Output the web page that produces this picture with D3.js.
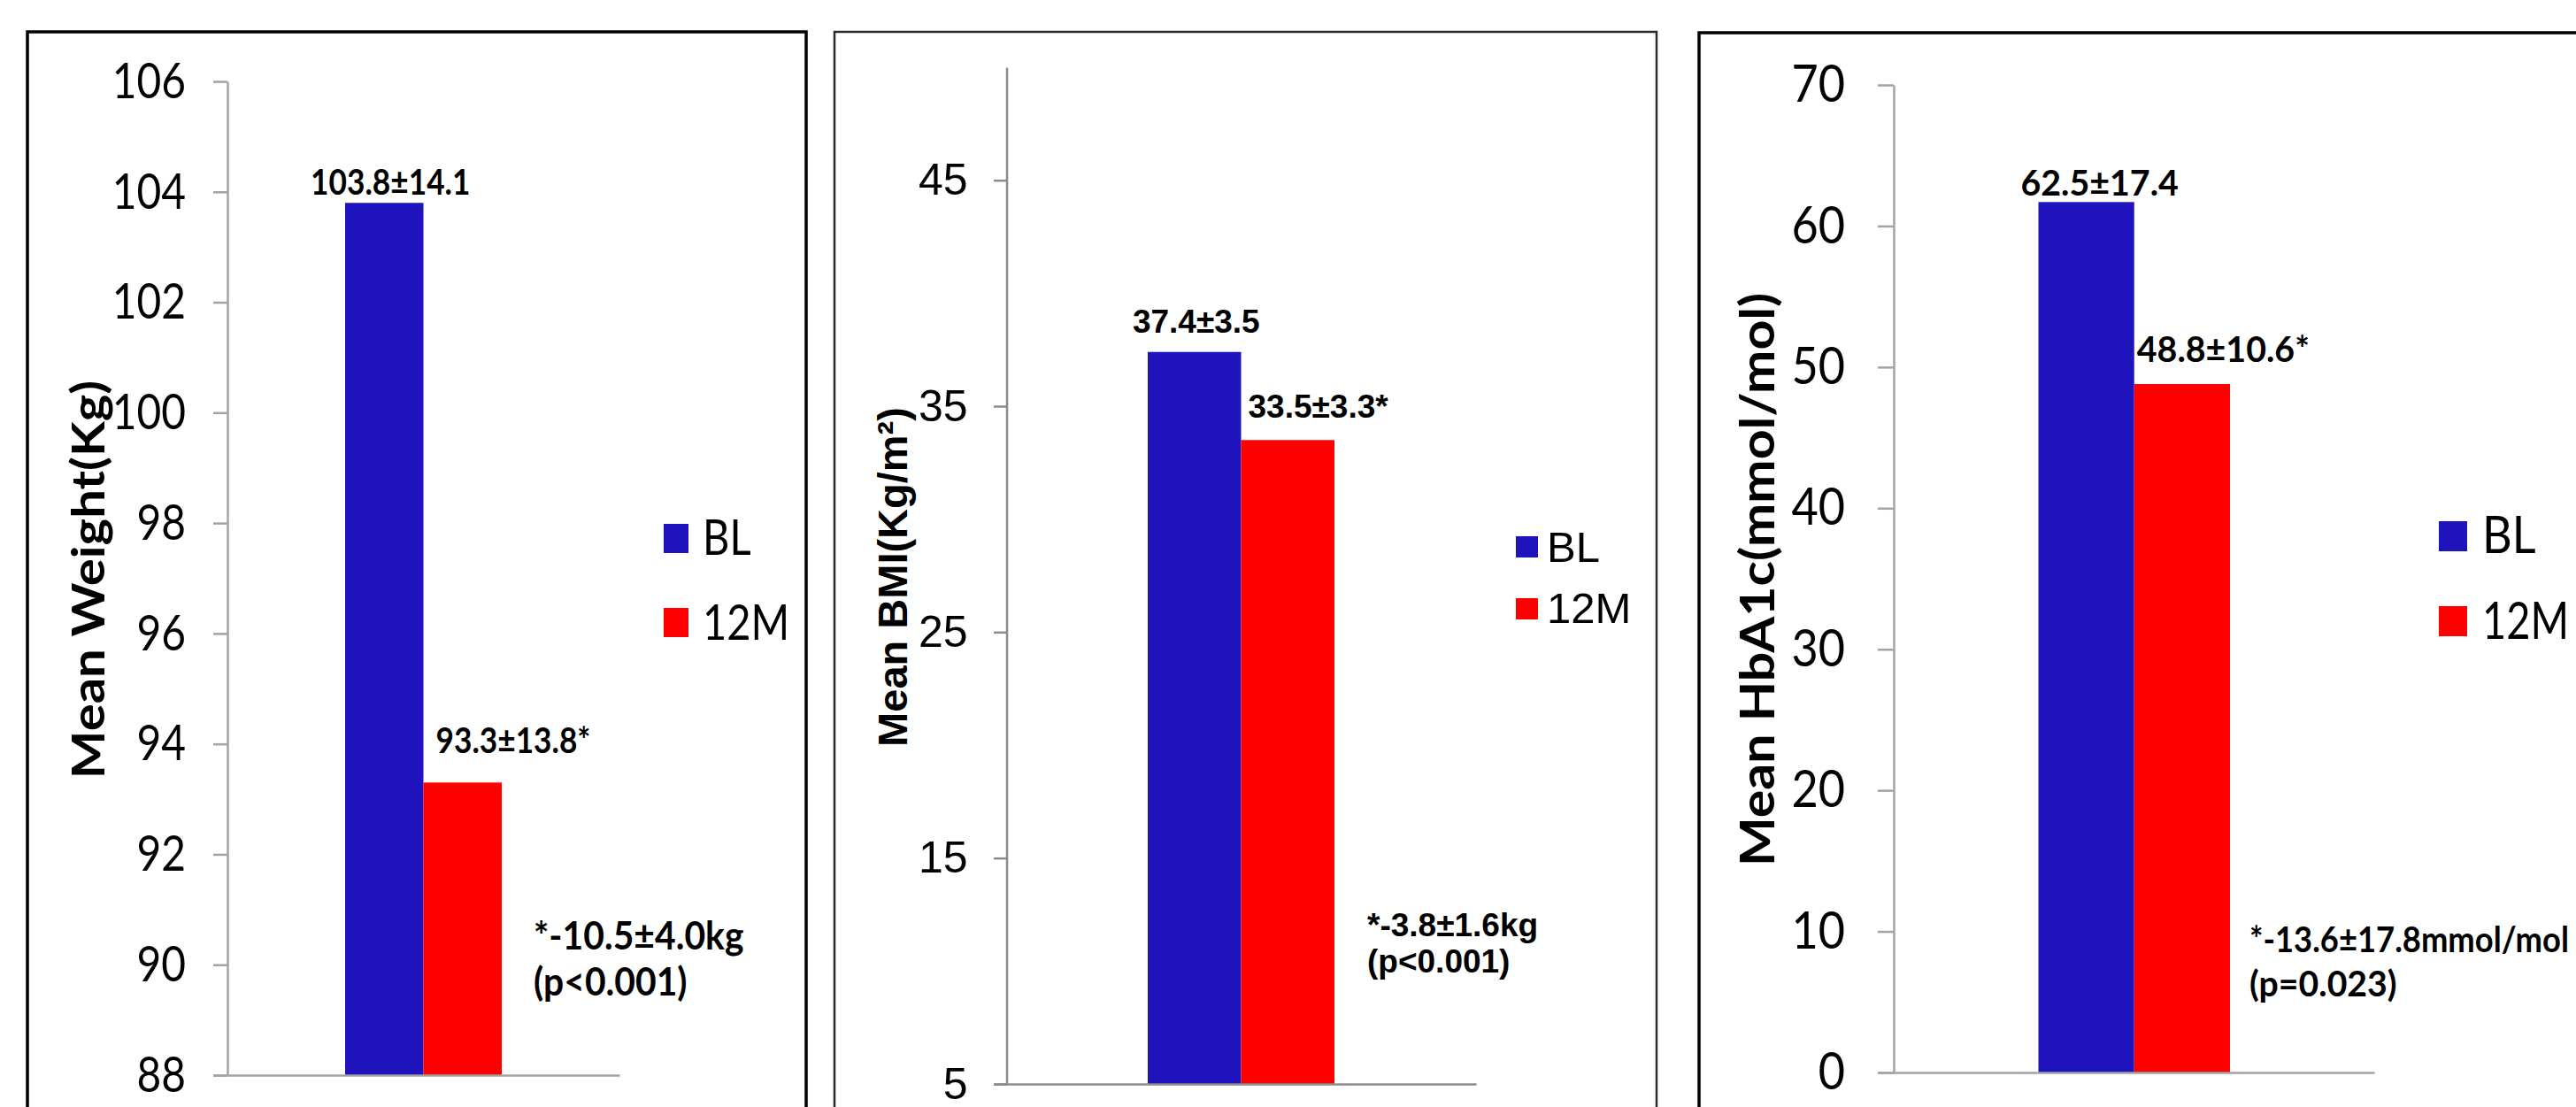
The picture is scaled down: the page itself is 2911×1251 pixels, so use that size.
<!DOCTYPE html>
<html>
<head>
<meta charset="utf-8">
<script src="https://cdn.jsdelivr.net/npm/d3@7.9.0/dist/d3.min.js"></script>
<style>
  html, body { margin: 0; padding: 0; background: #fff; }
  svg { display: block; }
</style>
</head>
<body>
<svg id="chart" width="2911" height="1251"></svg>
<script>
// ---------- data ----------
const series = ['BL', '12M'];

const weightValues = [103.8, 93.3];
const weightLabels = ['103.8±14.1', '93.3±13.8*'];
const weightTicks = [88, 90, 92, 94, 96, 98, 100, 102, 104, 106];
const weightNote = ['*-10.5±4.0kg', '(p<0.001)'];

const bmiValues = [37.4, 33.5];
const bmiLabels = ['37.4±3.5', '33.5±3.3*'];
const bmiTicks = [5, 15, 25, 35, 45];
const bmiNote = ['*-3.8±1.6kg', '(p<0.001)'];

const hba1cValues = [61.7, 48.8];
const hba1cLabels = ['62.5±17.4', '48.8±10.6*'];
const hba1cTicks = [0, 10, 20, 30, 40, 50, 60, 70];
const hba1cNote = ['*-13.6±17.8mmol/mol', '(p=0.023)'];

const colors = d3.scaleOrdinal(series, ['#1f13bd', '#ff0000']);

// ---------- layout (one entry per panel) ----------
// sx = horizontal squeeze of the text, to get close to the narrow Calibri look
const panels = [
  {
    title: 'Mean Weight(Kg)', values: weightValues, labels: weightLabels,
    ticks: weightTicks, domain: [88, 106], note: weightNote,
    font: 'Lato, sans-serif', sx: 0.84, labelSx: 0.86, noteSx: 0.95, titleSx: 0.9,
    box: { x: 31, y: 36, w: 880, stroke: '#000', sw: 3.5 },
    axisX: 257, yRange: [1215, 92], tickLen: 16, tickPad: 31, tickFont: 57,
    axisColor: '#a3a3a3', xEnd: 700, bars: [390, 567],
    labelFont: 41, labelPos: [{ a: 'middle', dx: 7, dy: -9 }, { a: 'start', dx: 14, dy: -33 }],
    noteFont: 43, noteX: 603, noteY: [1073, 1125],
    titleFont: 58, titleX: 102, titleY: 655,
    legendFont: 56, legX: 750, legY: [592, 687], legW: 28, legH: 33, legTextX: 794, legBase: [627, 723]
  },
  {
    title: 'Mean BMI(Kg/m²)', values: bmiValues, labels: bmiLabels,
    ticks: bmiTicks, domain: [5, 50], note: bmiNote,
    font: '"Liberation Sans", Arial, sans-serif', sx: 1, labelSx: 1, noteSx: 1, titleSx: 1,
    box: { x: 943, y: 36, w: 929, stroke: '#2a2a2a', sw: 2.5 },
    axisX: 1137.5, yRange: [1225, 76], tickLen: 14.5, tickPad: 29.5, tickFont: 50,
    axisColor: '#8c8c8c', xEnd: 1668, bars: [1297, 1508],
    labelFont: 37, labelPos: [{ a: 'middle', dx: 2, dy: -22 }, { a: 'start', dx: 8, dy: -25 }],
    noteFont: 37, noteX: 1545, noteY: [1058, 1099],
    titleFont: 47, titleX: 1011, titleY: 652,
    legendFont: 49, legX: 1713, legY: [606, 676], legW: 25, legH: 24, legTextX: 1748, legBase: [635, 704]
  },
  {
    title: 'Mean HbA1c(mmol/mol)', values: hba1cValues, labels: hba1cLabels,
    ticks: hba1cTicks, domain: [0, 70], note: hba1cNote,
    font: 'Lato, sans-serif', sx: 0.9, labelSx: 0.96, noteSx: 0.98, titleSx: 0.9,
    box: { x: 1920, y: 37, w: 1100, stroke: '#000', sw: 3.5 },
    axisX: 2140, yRange: [1212, 96], tickLen: 18, tickPad: 37, tickFont: 58,
    axisColor: '#a3a3a3', xEnd: 2683, bars: [2303.5, 2520],
    labelFont: 41, labelPos: [{ a: 'middle', dx: 15, dy: -7 }, { a: 'start', dx: 3, dy: -25 }],
    noteFont: 40, noteX: 2542, noteY: [1076, 1126],
    titleFont: 59, titleX: 1989, titleY: 655,
    legendFont: 58, legX: 2756, legY: [589, 685], legW: 32, legH: 34, legTextX: 2805, legBase: [625, 722]
  }
];

const W = 2911, H = 1251;
const RIGHT_LIMIT = W - 8;  // keep texts of the last panel inside the picture

const svg = d3.select('#chart');
svg.append('rect').attr('width', W).attr('height', H).attr('fill', '#fff');

// text squeezed horizontally around its anchor; shrinks further if it would run off the right edge
function put(g, str, x, y, p, size, opts = {}) {
  let sx = opts.sx || p.sx;
  const rot = opts.rotate ? ` rotate(${opts.rotate})` : '';
  const t = g.append('text')
    .attr('text-anchor', opts.anchor || 'start')
    .attr('dy', opts.dy || null)
    .style('font-family', p.font)
    .style('font-size', size + 'px')
    .style('font-weight', opts.bold ? 700 : 400)
    .attr('fill', '#000')
    .text(str);
  if (!opts.rotate && (opts.anchor || 'start') === 'start') {
    const len = t.node().getComputedTextLength();
    if (x + len * sx > RIGHT_LIMIT) sx = (RIGHT_LIMIT - x) / len;
  }
  t.attr('transform', `translate(${x},${y}) scale(${sx},1)${rot}`);
  return t;
}

panels.forEach(p => {
  const g = svg.append('g');

  // frame (runs off the bottom of the picture, as in the original)
  g.append('rect')
    .attr('x', p.box.x).attr('y', p.box.y)
    .attr('width', p.box.w).attr('height', 1400)
    .attr('fill', 'none').attr('stroke', p.box.stroke).attr('stroke-width', p.box.sw);

  const y = d3.scaleLinear().domain(p.domain).range(p.yRange);
  const x = d3.scaleBand().domain(series).range(p.bars).padding(0);

  // bars
  g.selectAll('rect.bar').data(p.values).join('rect')
    .attr('class', 'bar')
    .attr('x', (d, i) => x(series[i]))
    .attr('width', x.bandwidth())
    .attr('y', d => y(d))
    .attr('height', d => y(p.domain[0]) - y(d))
    .attr('fill', (d, i) => colors(series[i]));

  // y axis
  const ya = g.append('g')
    .attr('transform', `translate(${p.axisX},0)`)
    .call(d3.axisLeft(y).tickValues(p.ticks).tickSize(p.tickLen).tickSizeOuter(0).tickPadding(p.tickPad));
  ya.selectAll('path, line').attr('stroke', p.axisColor).attr('stroke-width', 2.5);
  ya.selectAll('.tick text').each(function () {
    const t = d3.select(this);
    const tx = +t.attr('x');
    t.attr('x', 0).attr('transform', `translate(${tx},0) scale(${p.sx},1)`);
  })
    .attr('fill', '#000')
    .style('font-family', p.font)
    .style('font-size', p.tickFont + 'px');

  // x axis (baseline only, no ticks)
  const xl = d3.scaleLinear().range([p.axisX - p.tickLen, p.xEnd]);
  const xa = g.append('g')
    .attr('transform', `translate(0,${y(p.domain[0])})`)
    .call(d3.axisBottom(xl).ticks(0).tickSizeOuter(0));
  xa.selectAll('path').attr('stroke', p.axisColor).attr('stroke-width', 2.5);
  xa.selectAll('.tick').remove();

  // value labels
  p.values.forEach((v, i) => {
    const lp = p.labelPos[i];
    const bx = lp.a === 'middle' ? x(series[i]) + x.bandwidth() / 2 : x(series[i]);
    put(g, p.labels[i], bx + lp.dx, y(v) + lp.dy, p, p.labelFont, { anchor: lp.a, bold: true, sx: p.labelSx });
  });

  // difference note
  p.note.forEach((line, i) => {
    put(g, line, p.noteX, p.noteY[i], p, p.noteFont, { bold: true, sx: p.noteSx });
  });

  // y title
  put(g, p.title, p.titleX, p.titleY, p, p.titleFont, { anchor: 'middle', bold: true, rotate: -90, dy: '0.3em', sx: p.titleSx });

  // legend
  series.forEach((s, i) => {
    g.append('rect')
      .attr('x', p.legX).attr('y', p.legY[i])
      .attr('width', p.legW).attr('height', p.legH)
      .attr('fill', colors(s));
    put(g, s, p.legTextX, p.legBase[i], p, p.legendFont);
  });
});
</script>
</body>
</html>
